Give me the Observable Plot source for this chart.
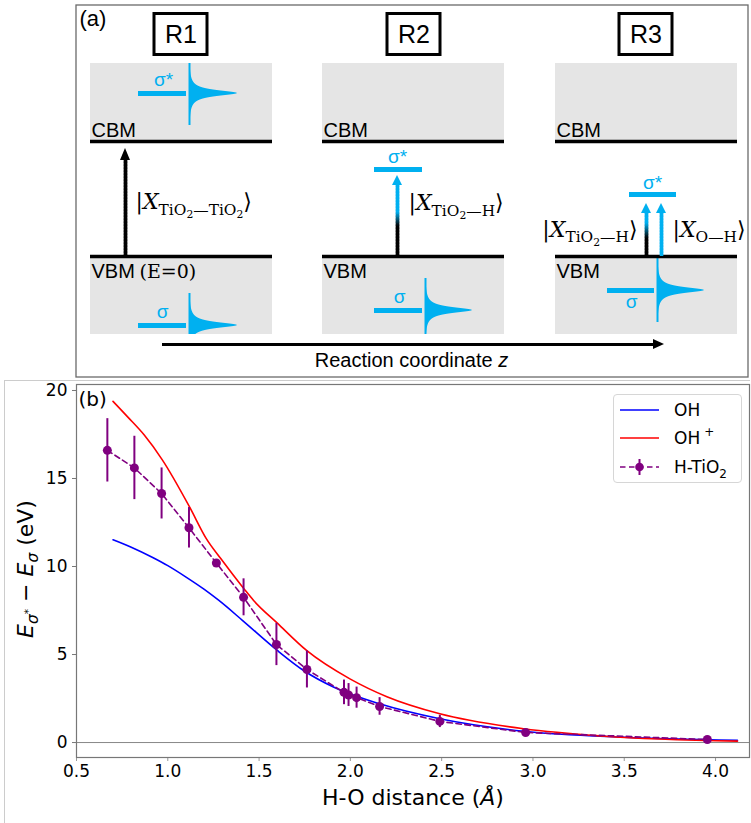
<!DOCTYPE html>
<html>
<head>
<meta charset="utf-8">
<script src="https://cdn.jsdelivr.net/npm/d3@7"></script>
<script src="https://cdn.jsdelivr.net/npm/@observablehq/plot@0.6"></script>
<style>
  body { margin: 0; background: #fff; }
  #fig { position: relative; width: 751px; height: 823px; overflow: hidden; background: #fff; }
  #pa { position: absolute; left: 0; top: 0; }
  #pb { position: absolute; left: 0; top: 380px; }
  #outer { position: absolute; left: 4px; top: 380px; width: 746px; height: 443px; border-left: 1px solid #ccc; border-top: 1px solid #ccc; box-sizing: border-box; }
  #legend { position: absolute; left: 613px; top: 394px; width: 129px; height: 89px; box-sizing: border-box;
            border: 1px solid #d6d6d6; border-radius: 4px; background: rgba(255,255,255,0.85);
            font-family: "DejaVu Sans"; font-size: 17px; z-index: 5; }
  #legend .row { position: absolute; left: 0; height: 20px; }
  #legend svg { position: absolute; left: 5px; top: 0; }
  #legend span { position: absolute; left: 60px; top: 0; line-height: 20px; white-space: nowrap; }
  #legend sup { font-size: 12px; vertical-align: baseline; position: relative; top: -8px; margin-left: 4px; }
  #legend sub { font-size: 12px; vertical-align: baseline; position: relative; top: 5px; }
</style>
</head>
<body>
<div id="fig">
  <div id="outer"></div>
  <div id="pa"></div>
  <div id="pb"></div>
  <div id="legend"></div>
</div>
<script>
// ================= Panel (b) data =================
const ohDist   = [0.70, 0.80, 0.92, 1.00, 1.10, 1.20, 1.28, 1.41, 1.60, 1.75, 1.91, 2.16, 2.49, 2.95, 3.50, 4.12];
const ohGap    = [11.52, 11.10, 10.50, 10.05, 9.40, 8.70, 8.07, 6.93, 5.23, 4.05, 3.14, 2.20, 1.35, 0.64, 0.30, 0.13];
const ohpDist  = [0.70, 0.78, 0.87, 0.97, 1.12, 1.21, 1.29, 1.42, 1.47, 1.60, 1.76, 2.00, 2.20, 2.49, 2.95, 3.39, 4.12];
const ohpGap   = [19.38, 18.50, 17.48, 16.06, 13.37, 11.60, 10.45, 8.70, 8.07, 6.78, 5.23, 3.60, 2.60, 1.63, 0.78, 0.36, 0.08];
const htDist   = [0.669, 0.817, 0.966, 1.116, 1.266, 1.415, 1.595, 1.762, 1.965, 1.990, 2.034, 2.160, 2.490, 2.960, 3.955];
const htGap    = [16.60, 15.60, 14.15, 12.20, 10.20, 8.25, 5.57, 4.15, 2.85, 2.70, 2.55, 2.05, 1.20, 0.57, 0.17];
const htErr    = [1.80, 1.80, 1.45, 1.15, 0.20, 1.05, 1.20, 1.05, 0.70, 0.65, 0.60, 0.50, 0.35, 0.10, 0.10];
const xTicks   = [0.5, 1.0, 1.5, 2.0, 2.5, 3.0, 3.5, 4.0];
const yTicks   = [0, 5, 10, 15, 20];
const seriesNames = ["OH", "OH<sup>+</sup>", "H-TiO<sub>2</sub>"];
const seriesColors = ["#0000ff", "#ff0000", "#800080"];

// ================= Panel (a) schematic (diagram units, y downward) =================
const cyan = "#00b0f0";
const frameA = {x1: 76, x2: 748, y1: 5, y2: 377};
const stageNames = ["R1", "R2", "R3"];
const stageX = [180.5, 413.5, 645.5];
const stageBoxHalfW = 26.5, stageBoxY1 = 13.5, stageBoxY2 = 54.5, stageLabelY = 34;
const bandX1 = [90, 322, 555];
const bandX2 = [272, 504, 737];
const bandTop = 63, cbmY = 141, vbmY = 256, bandBottom = 334;
const cbmLabelY = 130, vbmLabelY = 271, e0LabelX = 139;
const sigmaStarX1 = [138, 374, 629], sigmaStarX2 = [186, 422, 676], sigmaStarY = [93, 169, 194];
const sigmaX1 = [138, 374, 607], sigmaX2 = [186, 422, 654], sigmaY = [325, 310, 290];
const sigmaStarLabelX = [163, 397, 652], sigmaStarLabelY = [79.5, 156, 182];
const sigmaLabelX = [162, 399, 631], sigmaLabelY = [311, 296, 301];
const peakX = [189, 189, 425, 657];
const peakY = [93, 325, 310, 290];
const peakTop = [63, 293, 278, 258];
const peakBottom = [125, 334, 334, 322];
const peakLen = [48, 48, 47, 47];
const peakWidth = 3.5;
const arrowX = [125, 397, 646, 661];
const arrowTip = [148, 175, 203, 203];
const arrowHeadLen = [12, 10, 10, 10];
const arrowBase = 256;
const arrowTopColor = ["black", cyan, cyan, cyan];
const arrowBottomColor = ["black", "black", "black", cyan];
const arrowGradTop = [200, 212, 223, 200];
const arrowGradBottom = [201, 226, 238, 201];
const ketText = ["|*{X}_{TiO_{2}—TiO_{2}}⟩", "|*{X}_{TiO_{2}—H}⟩", "|*{X}_{TiO_{2}—H}⟩", "|*{X}_{O—H}⟩"];
const ketX = [135, 408, 637, 672];
const ketY = [201.5, 202.5, 229, 229];
const reactY = 344, reactX1 = 162, reactTip = 664, reactLabelX = 411, reactLabelY = 360;
const reactLabel = "Reaction coordinate *{z}";

// ---------- markup → tspans (sub _{}, sup ^{}, italic *{}) ----------
function parseMarkup(s) {
  const out = [];
  function rec(str, path, italic) {
    let i = 0, buf = "";
    const flush = () => { if (buf) { out.push({text: buf, path: path.slice(), italic}); buf = ""; } };
    while (i < str.length) {
      const c = str[i];
      if ((c === "_" || c === "^" || c === "*") && str[i + 1] === "{") {
        let depth = 0, j = i + 1;
        for (; j < str.length; j++) {
          if (str[j] === "{") depth++;
          else if (str[j] === "}") { depth--; if (!depth) break; }
        }
        flush();
        const inner = str.slice(i + 2, j);
        if (c === "*") rec(inner, path, true);
        else rec(inner, path.concat(c === "_" ? "sub" : "sup"), italic);
        i = j + 1;
      } else { buf += c; i++; }
    }
    flush();
  }
  rec(s, [], false);
  return out;
}
function richify(root) {
  root.querySelectorAll("text").forEach(el => {
    const src = el.textContent;
    if (!/[_^*]\{/.test(src)) return;
    const base = parseFloat(getComputedStyle(el).fontSize);
    const segs = parseMarkup(src);
    while (el.firstChild) el.removeChild(el.firstChild);
    let prev = 0;
    for (const s of segs) {
      let size = base, off = 0;
      for (const p of s.path) { off += p === "sub" ? 0.25 * size : -0.42 * size; size *= 0.7; }
      const t = document.createElementNS("http://www.w3.org/2000/svg", "tspan");
      t.setAttribute("font-size", size.toFixed(2));
      if (off !== prev) t.setAttribute("dy", (off - prev).toFixed(2));
      if (s.italic) t.setAttribute("font-style", "italic");
      t.textContent = s.text;
      el.appendChild(t);
      prev = off;
    }
  });
}

// ================= Build panel (a) =================
const idx3 = [0, 1, 2];
const bands = [];
idx3.forEach(i => {
  bands.push({x1: bandX1[i], x2: bandX2[i], y1: bandTop, y2: cbmY});
  bands.push({x1: bandX1[i], x2: bandX2[i], y1: vbmY, y2: bandBottom});
});
// peak glyphs (schematic Lorentzian-like DOS shape)
const peakPts = [];
peakX.forEach((x0, k) => {
  for (let y = peakTop[k]; y <= peakBottom[k] + 1e-9; y += 0.5) {
    const u = (y - peakY[k]) / peakWidth;
    peakPts.push({k, y, x1: x0, x2: x0 + peakLen[k] / (1 + u * u)});
  }
});
// arrow shafts as colour-graded segments
const shaftSegs = [];
const heads = [];
arrowX.forEach((x, k) => {
  const headBase = arrowTip[k] + arrowHeadLen[k];
  const interp = d3.interpolateRgb(arrowBottomColor[k], arrowTopColor[k]);
  for (let y = arrowBase; y > headBase; y -= 1.5) {
    const y2 = Math.max(headBase - 0.5, y - 2.2);
    const mid = y - 0.75;
    const t = Math.max(0, Math.min(1, (arrowGradBottom[k] - mid) / (arrowGradBottom[k] - arrowGradTop[k])));
    shaftSegs.push({x, y1: y, y2, c: interp(t)});
  }
  heads.push({k, y: headBase, x1: x - 5, x2: x + 5, c: arrowTopColor[k]});
  heads.push({k, y: arrowTip[k], x1: x, x2: x, c: arrowTopColor[k]});
});
const reactHead = [
  {x: reactTip - 11, y1: reactY - 5, y2: reactY + 5},
  {x: reactTip, y1: reactY, y2: reactY}
];
const ketIdxStart = [0, 1, 3], ketIdxEnd = [2];
const fontA = "Liberation Sans";

const pa = Plot.plot({
  width: 751, height: 380, margin: 0,
  style: {fontFamily: fontA, background: "transparent", color: "black"},
  x: {type: "linear", domain: [0, 751], range: [0, 751], axis: null},
  y: {type: "linear", domain: [0, 380], range: [0, 380], axis: null},
  color: {type: "identity"},
  marks: [
    Plot.rect([frameA], {x1: "x1", x2: "x2", y1: "y1", y2: "y2", fill: "white", stroke: "#6a6a6a", strokeWidth: 1.3}),
    Plot.text(["(a)"], {x: frameA.x1 + 3, y: 18, text: d => d, textAnchor: "start", fontSize: 22}),
    // stage boxes
    Plot.rect(idx3, {x1: i => stageX[i] - stageBoxHalfW, x2: i => stageX[i] + stageBoxHalfW, y1: stageBoxY1, y2: stageBoxY2, fill: "white", stroke: "black", strokeWidth: 3}),
    Plot.text(idx3, {x: i => stageX[i], y: stageLabelY, text: i => stageNames[i], fontSize: 25}),
    // grey bands
    Plot.rect(bands, {x1: "x1", x2: "x2", y1: "y1", y2: "y2", fill: "#e5e5e5"}),
    // peak glyphs
    Plot.areaX(peakPts, {y: "y", x1: "x1", x2: "x2", z: "k", fill: cyan, curve: "linear"}),
    Plot.ruleX(peakX.map((x, k) => k), {x: k => peakX[k], y1: k => peakTop[k], y2: k => peakBottom[k], stroke: cyan, strokeWidth: 2}),
    // band edges
    Plot.ruleY(idx3, {y: cbmY, x1: i => bandX1[i], x2: i => bandX2[i], stroke: "black", strokeWidth: 3.5}),
    Plot.ruleY(idx3, {y: vbmY, x1: i => bandX1[i], x2: i => bandX2[i], stroke: "black", strokeWidth: 3.5}),
    Plot.text(idx3, {x: i => bandX1[i] + 1, y: cbmLabelY, text: () => "CBM", textAnchor: "start", fontSize: 20}),
    Plot.text(idx3, {x: i => bandX1[i] + 1, y: vbmLabelY, text: () => "VBM", textAnchor: "start", fontSize: 20}),
    Plot.text(["(E=0)"], {x: e0LabelX, y: vbmLabelY, text: d => d, textAnchor: "start", fontSize: 19, fontFamily: "DejaVu Serif"}),
    // molecular levels
    Plot.ruleY(idx3, {y: i => sigmaStarY[i], x1: i => sigmaStarX1[i], x2: i => sigmaStarX2[i], stroke: cyan, strokeWidth: 5}),
    Plot.ruleY(idx3, {y: i => sigmaY[i], x1: i => sigmaX1[i], x2: i => sigmaX2[i], stroke: cyan, strokeWidth: 5}),
    Plot.text(idx3, {x: i => sigmaStarLabelX[i], y: i => sigmaStarLabelY[i], text: () => "σ*", fill: cyan, fontSize: 19}),
    Plot.text(idx3, {x: i => sigmaLabelX[i], y: i => sigmaLabelY[i], text: () => "σ", fill: cyan, fontSize: 19}),
    // excitation arrows
    Plot.ruleX(shaftSegs, {x: "x", y1: "y1", y2: "y2", stroke: "c", strokeWidth: 3.6}),
    Plot.areaX(heads, {y: "y", x1: "x1", x2: "x2", z: "k", fill: "c", curve: "linear"}),
    Plot.text(ketIdxStart, {x: i => ketX[i], y: i => ketY[i], text: i => ketText[i], textAnchor: "start", fontSize: 22, fontFamily: "DejaVu Serif"}),
    Plot.text(ketIdxEnd, {x: i => ketX[i], y: i => ketY[i], text: i => ketText[i], textAnchor: "end", fontSize: 22, fontFamily: "DejaVu Serif"}),
    // reaction coordinate
    Plot.ruleY([reactY], {x1: reactX1, x2: reactTip - 10, stroke: "black", strokeWidth: 3.2}),
    Plot.areaY(reactHead, {x: "x", y1: "y1", y2: "y2", fill: "black", curve: "linear"}),
    Plot.text([reactLabel], {x: reactLabelX, y: reactLabelY, text: d => d, fontSize: 20})
  ]
});
document.getElementById("pa").appendChild(pa);
richify(pa);

// ================= Build panel (b) =================
const ohData = ohDist.map((d, i) => ({d, e: ohGap[i]}));
const ohpData = ohpDist.map((d, i) => ({d, e: ohpGap[i]}));
const htData = htDist.map((d, i) => ({d, e: htGap[i], err: htErr[i]}));
const xLabel = "H-O distance (*{Å})";
const yLabel = "*{E}_{*{σ}^{*}} − *{E}_{*{σ}} (eV)";

const pb = Plot.plot({
  width: 751, height: 443,
  marginLeft: 76, marginRight: 2, marginTop: 4, marginBottom: 66,
  style: {fontFamily: "DejaVu Sans", fontSize: "17px", background: "transparent", color: "black"},
  x: {type: "linear", domain: [0.5, 4.186], label: null},
  y: {type: "linear", domain: [-0.85, 20.34], label: null},
  marks: [
    Plot.ruleY([0], {stroke: "#888", strokeWidth: 1}),
    Plot.line(ohData, {x: "d", y: "e", stroke: seriesColors[0], strokeWidth: 1.6, curve: "monotone-x"}),
    Plot.line(ohpData, {x: "d", y: "e", stroke: seriesColors[1], strokeWidth: 1.6, curve: "monotone-x"}),
    Plot.line(htData, {x: "d", y: "e", stroke: seriesColors[2], strokeWidth: 1.6, strokeDasharray: "5.5,3.5"}),
    Plot.ruleX(htData, {x: "d", y1: d => d.e - d.err, y2: d => d.e + d.err, stroke: seriesColors[2], strokeWidth: 2}),
    Plot.dot(htData, {x: "d", y: "e", r: 4.5, fill: seriesColors[2]}),
    Plot.axisX({ticks: xTicks, tickFormat: d => d.toFixed(1), tickSize: 4, tickPadding: 3, stroke: "#999", fontSize: 17, label: null}),
    Plot.axisY({ticks: yTicks, tickFormat: d => String(d), tickSize: 4, tickPadding: 5, stroke: "#777", fontSize: 17, label: null}),
    Plot.frame({stroke: "#777", strokeWidth: 1.2}),
    Plot.text([xLabel], {frameAnchor: "bottom", dy: 40, text: d => d, fontSize: 22, lineAnchor: "middle"}),
    Plot.text([yLabel], {frameAnchor: "left", dx: -51, dy: -2, rotate: -90, text: d => d, fontSize: 22, lineAnchor: "middle", textAnchor: "middle"}),
    Plot.text(["(b)"], {frameAnchor: "top-left", dx: 2, dy: 15, text: d => d, fontSize: 20, textAnchor: "start", lineAnchor: "middle"})
  ]
});
document.getElementById("pb").appendChild(pb);
richify(pb);

// ================= Legend =================
const legend = document.getElementById("legend");
const rowTops = [5, 33, 62];
seriesNames.forEach((name, i) => {
  const row = document.createElement("div");
  row.className = "row";
  row.style.top = rowTops[i] + "px";
  row.style.width = "127px";
  const c = seriesColors[i];
  let svg = `<svg width="40" height="20" viewBox="0 0 40 20">`;
  if (i < 2) svg += `<line x1="1" x2="40" y1="10" y2="10" stroke="${c}" stroke-width="1.6"/>`;
  else svg += `<line x1="1" x2="40" y1="10" y2="10" stroke="${c}" stroke-width="1.6" stroke-dasharray="5.5,3.5"/>` +
              `<line x1="20.5" x2="20.5" y1="2" y2="18" stroke="${c}" stroke-width="2"/>` +
              `<circle cx="20.5" cy="10" r="4.3" fill="${c}"/>`;
  svg += `</svg>`;
  row.innerHTML = svg + `<span>${name}</span>`;
  legend.appendChild(row);
});
</script>
</body>
</html>
